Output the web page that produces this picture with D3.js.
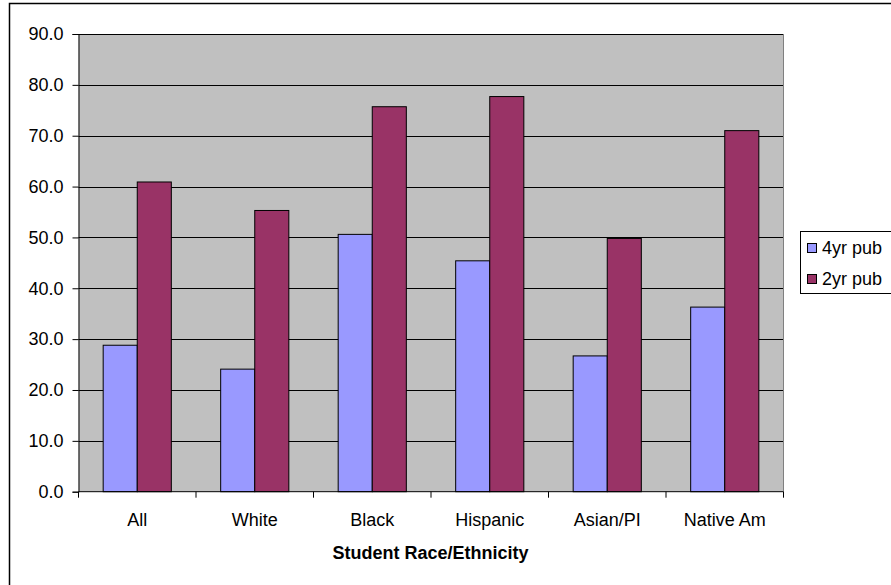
<!DOCTYPE html>
<html><head><meta charset="utf-8">
<script src="https://cdn.jsdelivr.net/npm/d3@7"></script>
<style>body{margin:0;background:#fff;}svg{display:block;font-family:"Liberation Sans",Arial,sans-serif;}</style>
</head><body>
<svg id="c" width="891" height="585"></svg>
<script>
const categories = ["All","White","Black","Hispanic","Asian/PI","Native Am"];
const seriesNames = ["4yr pub","2yr pub"];
const fourYearPub = [28.8,24.1,50.6,45.4,26.7,36.3];
const twoYearPub = [60.9,55.3,75.7,77.7,49.8,71.0];
const yTicks = [0,10,20,30,40,50,60,70,80,90];
const colors = ["#9999FF","#993366"];
const xTitle = "Student Race/Ethnicity";

const svg = d3.select("#c");
const L = 78.5, R = 783.5, T = 34, B = 491.7;
const FS = 18;

svg.append("rect").attr("x",9.5).attr("y",3.5).attr("width",900).attr("height",600)
  .attr("fill","#fff").attr("stroke","#000").attr("stroke-width",1.5);

const x = d3.scaleBand().domain(categories).range([L,R]).padding(0);
const y = d3.scaleLinear().domain([0,90]).range([B,T]);

svg.append("rect").attr("x",L).attr("y",T).attr("width",R-L).attr("height",B-T).attr("fill","#C0C0C0");

svg.append("g").selectAll("line").data(yTicks.filter(d=>d>0)).join("line")
  .attr("x1",L).attr("x2",R).attr("y1",d=>Math.round(y(d))+0.5).attr("y2",d=>Math.round(y(d))+0.5)
  .attr("stroke","#000").attr("stroke-width",1);
svg.append("line").attr("x1",R).attr("x2",R).attr("y1",T).attr("y2",B).attr("stroke","#808080");

const bw = x.bandwidth()*0.29;
const data = [fourYearPub, twoYearPub];
data.forEach((vals,si)=>{
  svg.append("g").selectAll("rect").data(categories).join("rect")
    .attr("x",(c)=>x(c)+x.bandwidth()/2 - bw + si*bw)
    .attr("y",(c,i)=>y(vals[i]))
    .attr("width",bw)
    .attr("height",(c,i)=>B-y(vals[i]))
    .attr("fill",colors[si]).attr("stroke","#000").attr("stroke-width",1);
});

const ya = svg.append("g").attr("transform",`translate(${L},0)`)
  .call(d3.axisLeft(y).tickValues(yTicks).tickFormat(d3.format(".1f")).tickSize(6).tickPadding(9));
ya.select(".domain").attr("stroke","#000");
ya.selectAll("line").attr("stroke","#000");
ya.selectAll("text").attr("font-size",FS).attr("fill","#000").attr("font-family","'Liberation Sans', Arial, sans-serif");

const xa = svg.append("g").attr("transform",`translate(0,${B})`);
xa.append("line").attr("x1",L).attr("x2",R).attr("y1",0).attr("y2",0).attr("stroke","#000");
const bounds = categories.map(c=>x(c)).concat([R]);
xa.selectAll("line.t").data(bounds).join("line").attr("class","t")
  .attr("x1",d=>d).attr("x2",d=>d).attr("y1",0).attr("y2",6).attr("stroke","#000");
xa.selectAll("text").data(categories).join("text")
  .attr("x",c=>x(c)+x.bandwidth()/2).attr("y",34.5).attr("text-anchor","middle")
  .attr("font-size",FS).text(d=>d);

svg.append("text").attr("x",(L+R)/2 - 0.5).attr("y",559).attr("text-anchor","middle")
  .attr("font-size",FS).attr("font-weight","bold").text(xTitle);

const lg = svg.append("g");
lg.append("rect").attr("x",800.5).attr("y",231.5).attr("width",100).attr("height",62)
  .attr("fill","#fff").attr("stroke","#000");
seriesNames.forEach((n,i)=>{
  lg.append("rect").attr("x",807.5).attr("y",243.5+i*31).attr("width",9).attr("height",9)
    .attr("fill",colors[i]).attr("stroke","#000");
  lg.append("text").attr("x",822).attr("y",253.5+i*31).attr("font-size",FS).text(n);
});
</script>
</body></html>
